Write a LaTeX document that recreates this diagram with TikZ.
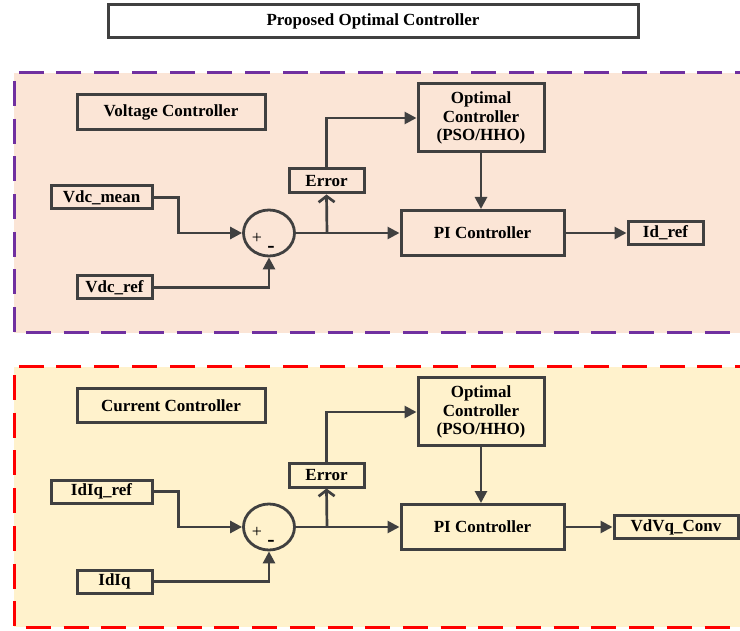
\documentclass[tikz,border=0pt]{standalone}
\usepackage{fontspec}
\setmainfont{Liberation Serif}
\usetikzlibrary{arrows.meta,positioning,shapes.geometric}
\definecolor{LineGray}{RGB}{64,64,64}
\definecolor{FramePurple}{RGB}{112,48,160}
\definecolor{FrameRed}{RGB}{255,0,0}
\definecolor{PeachFill}{RGB}{251,229,214}
\definecolor{CreamFill}{RGB}{255,242,204}
\tikzset{
  blk/.style={draw=LineGray,line width=3pt,inner sep=0pt,align=center,
              font=\fontsize{17}{18.5}\selectfont\bfseries},
  sumnode/.style={ellipse,draw=LineGray,line width=2.8pt,
                  minimum width=51pt,minimum height=46pt,inner sep=0pt},
  arr/.style={-{Triangle[length=12pt,width=12pt]},LineGray,line width=2.7pt},
  arrbarb/.style={-{Straight Barb[length=6pt,width=16pt]},LineGray,line width=2.7pt},
  dashframe/.style={line width=3pt,dash pattern=on 25pt off 12.7pt},
}

\begin{document}
\begin{tikzpicture}[x=1pt,y=-1pt,
    sign/.style={inner sep=0pt,font=\fontsize{18}{18}\selectfont},
    minus/.style={inner sep=0pt,font=\fontsize{22}{22}\selectfont\bfseries}
]
    \useasboundingbox (0,0) rectangle (740,631);

    % Frames
    \fill[PeachFill] (14,73) rectangle (760,333);
    \draw[dashframe,FramePurple] (760,73) -- (14,73) -- (14,333) -- (760,333);
    \fill[CreamFill] (14,367) rectangle (760,627);
    \draw[dashframe,FrameRed] (760,367) -- (14,367) -- (14,627) -- (760,627);

    \node[blk, fill=white, minimum width=530pt, minimum height=33pt] (title) at (373,21.5) {Proposed Optimal Controller};

    % Voltage controller
    \node[blk, minimum width=188pt, minimum height=35pt] (vctrl) at (171,112.5) {Voltage Controller};
    \node[blk, minimum width=101pt, minimum height=23pt] (vmean) at (101.5,197.5) {Vdc\_mean};
    \node[blk, minimum width=75pt, minimum height=23pt] (vref) at (114.5,287.5) {Vdc\_ref};
    \node[sumnode] (vsum) at (269,233) {};
    \node[sign] (vplus) at (257,238) {+};
    \node[minus] (vminus) at (271,249) {-};
    \node[blk, minimum width=75pt, minimum height=24pt] (verr) at (326.5,181) {Error};
    \node[blk, minimum width=126pt, minimum height=68pt] (vopt) at (481,118) {Optimal\\Controller\\(PSO/HHO)};
    \node[blk, minimum width=163pt, minimum height=45pt] (vpi) at (482.5,233) {PI Controller};
    \node[blk, minimum width=75pt, minimum height=23pt] (idref) at (665.5,233) {Id\_ref};
    \coordinate (vtap) at (327,233);

    \draw[arr] (vmean.east) -- ++(25,0) |- (vsum.west);
    \draw[arr] (vref.east) -| (vsum.south);
    \draw[arr] (vsum.east) -- (vpi.west);
    \draw[arrbarb] (vtap) -- (verr.south);
    \draw[arr] (verr.north) |- (vopt.west);
    \draw[arr] (vopt.south) -- (vopt.south |- vpi.north);
    \draw[arr] (vpi.east) -- (idref.west);

    % Current controller
    \node[blk, minimum width=188pt, minimum height=34pt] (cctrl) at (171,406) {Current Controller};
    \node[blk, minimum width=101pt, minimum height=23pt] (iqref) at (101.5,491.5) {IdIq\_ref};
    \node[blk, minimum width=75pt, minimum height=23pt] (idiq) at (114.5,581.5) {IdIq};
    \node[sumnode] (csum) at (269,527) {};
    \node[sign] (cplus) at (257,532) {+};
    \node[minus] (cminus) at (271,543) {-};
    \node[blk, minimum width=75pt, minimum height=24pt] (cerr) at (326.5,475) {Error};
    \node[blk, minimum width=126pt, minimum height=68pt] (copt) at (481,412) {Optimal\\Controller\\(PSO/HHO)};
    \node[blk, minimum width=163pt, minimum height=45pt] (cpi) at (482.5,527) {PI Controller};
    \node[blk, minimum width=124pt, minimum height=23pt] (vconv) at (676,527) {VdVq\_Conv};
    \coordinate (ctap) at (327,527);

    \draw[arr] (iqref.east) -- ++(25,0) |- (csum.west);
    \draw[arr] (idiq.east) -| (csum.south);
    \draw[arr] (csum.east) -- (cpi.west);
    \draw[arrbarb] (ctap) -- (cerr.south);
    \draw[arr] (cerr.north) |- (copt.west);
    \draw[arr] (copt.south) -- (copt.south |- cpi.north);
    \draw[arr] (cpi.east) -- (vconv.west);

\end{tikzpicture}
\end{document}
